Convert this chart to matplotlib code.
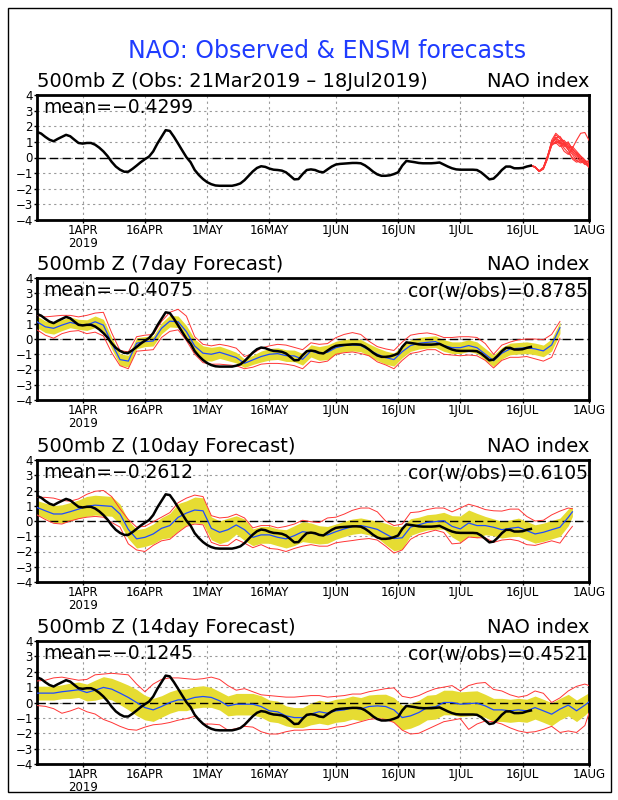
import numpy as np
import matplotlib
matplotlib.use("Agg")
import matplotlib.pyplot as plt
from matplotlib.patches import Rectangle

# ---- data (NAO index) ----
start = np.datetime64("2019-03-21")

# observed daily NAO, 21Mar .. 18Jul
obs = [1.64, 1.53, 1.32, 1.14, 1.04, 1.19, 1.32, 1.45, 1.36, 1.14,
       0.93, 0.89, 0.93, 0.93, 0.82, 0.63, 0.39, 0.09, -0.28, -0.58,
       -0.78, -0.91, -0.91, -0.73, -0.52, -0.30, -0.11, 0.06, 0.39, 0.89,
       1.32, 1.75, 1.70, 1.32, 0.89, 0.45, 0.02, -0.30, -0.80, -1.12,
       -1.38, -1.58, -1.71, -1.79, -1.81, -1.81, -1.81, -1.81, -1.75, -1.66,
       -1.45, -1.17, -0.89, -0.67, -0.56, -0.60, -0.71, -0.78, -0.80, -0.84,
       -0.95, -1.17, -1.40, -1.38, -1.06, -0.80, -0.76, -0.80, -0.91, -0.95,
       -0.76, -0.58, -0.45, -0.41, -0.39, -0.37, -0.35, -0.35, -0.37, -0.50,
       -0.69, -0.91, -1.08, -1.17, -1.17, -1.14, -1.06, -0.95, -0.52, -0.22,
       -0.26, -0.30, -0.35, -0.37, -0.37, -0.37, -0.35, -0.32, -0.45, -0.58,
       -0.69, -0.76, -0.78, -0.78, -0.78, -0.78, -0.80, -0.95, -1.17, -1.40,
       -1.35, -1.10, -0.80, -0.58, -0.58, -0.69, -0.69, -0.67, -0.58, -0.52]

# ensemble members 18Jul .. 1Aug (panel 1)
ens = [
    [-0.52, -0.60, -0.88, -0.70, 0.00, 0.95, 1.45, 1.20, 0.90, 0.70, 0.40, 0.10, -0.10, -0.30, -0.45],
    [-0.52, -0.62, -0.85, -0.62, 0.10, 1.00, 1.20, 1.05, 1.10, 0.80, 0.50, 0.30, 0.05, -0.20, -0.55],
    [-0.52, -0.58, -0.90, -0.75, -0.10, 0.80, 1.00, 0.95, 0.60, 0.30, 0.00, -0.20, -0.10, -0.35, -0.40],
    [-0.52, -0.60, -0.86, -0.68, 0.05, 0.90, 1.30, 1.00, 0.70, 0.90, 0.60, 0.20, -0.10, -0.25, -0.65],
    [-0.52, -0.64, -0.88, -0.66, 0.05, 0.85, 0.90, 1.10, 0.80, 0.50, 0.20, -0.20, -0.35, -0.20, -0.30],
    [-0.52, -0.60, -0.87, -0.72, -0.05, 1.10, 1.55, 1.30, 1.00, 0.60, 0.70, 0.40, 0.10, -0.15, -0.50],
    [-0.52, -0.61, -0.89, -0.70, 0.00, 0.75, 1.05, 0.85, 0.40, 0.20, 0.60, 1.10, 1.55, 1.60, 1.10],
    [-0.52, -0.60, -0.88, -0.66, 0.08, 0.95, 1.15, 0.90, 0.90, 0.50, -0.10, -0.30, -0.20, -0.45, -0.35],
    [-0.52, -0.62, -0.86, -0.69, 0.02, 0.88, 1.25, 1.35, 0.95, 0.65, 0.30, 0.00, -0.25, -0.30, -0.20],
    [-0.52, -0.59, -0.87, -0.71, -0.02, 0.92, 0.95, 0.70, 0.85, 1.00, 0.50, 0.25, -0.05, -0.40, -0.60],
]

# 7day forecast, every 2nd day from 21Mar to 25Jul
f7_mean = [1.13, 0.80, 0.70, 0.91, 1.09, 0.96, 0.91, 1.13, 0.91, -0.28,
           -1.35, -1.45, -0.28, -0.17, -0.13, 0.70, 1.17, 1.13, 0.48, -0.46,
           -0.93, -1.00, -0.87, -1.04, -1.22, -1.59, -1.37, -1.15, -1.00, -0.96,
           -1.09, -1.11, -1.33, -0.78, -0.95, -0.87, -0.57, -0.43, -0.39, -0.43,
           -0.72, -1.00, -1.22, -1.35, -0.83, -0.43, -0.28, -0.22, -0.17, -0.43,
           -0.57, -0.57, -0.43, -0.57, -1.00, -1.43, -0.93, -0.65, -0.61, -0.57,
           -0.65, -0.78, -0.39, 0.74]
f7_sd = [0.38, 0.38, 0.38, 0.36, 0.35, 0.33, 0.35, 0.38, 0.38, 0.38,
         0.38, 0.38, 0.36, 0.33, 0.33, 0.36, 0.38, 0.38, 0.40, 0.45,
         0.48, 0.45, 0.40, 0.38, 0.35, 0.28, 0.30, 0.36, 0.38, 0.38,
         0.38, 0.38, 0.38, 0.40, 0.45, 0.48, 0.42, 0.40, 0.40, 0.40,
         0.40, 0.42, 0.43, 0.43, 0.40, 0.38, 0.38, 0.38, 0.38, 0.38,
         0.38, 0.38, 0.38, 0.38, 0.38, 0.38, 0.38, 0.38, 0.38, 0.38,
         0.38, 0.38, 0.40, 0.38]
f7_lo = [0.60, 0.25, 0.05, 0.35, 0.50, 0.55, 0.35, 0.45, 0.20, -0.90,
         -1.75, -1.95, -0.80, -0.75, -0.70, 0.10, 0.50, 0.60, -0.10, -1.00,
         -1.55, -1.65, -1.65, -1.70, -1.75, -1.95, -1.85, -1.65, -1.60, -1.60,
         -1.65, -1.75, -1.95, -1.45, -1.55, -1.45, -1.00, -0.90, -0.85, -0.95,
         -1.10, -1.50, -1.70, -1.95, -1.40, -0.95, -0.85, -0.70, -0.70, -1.00,
         -1.05, -1.10, -1.05, -1.10, -1.40, -1.90, -1.40, -1.20, -1.20, -1.15,
         -1.30, -1.45, -1.20, 0.05]
f7_hi = [1.55, 1.45, 1.50, 1.55, 1.55, 1.45, 1.55, 1.70, 1.75, 0.40,
         -0.75, -0.85, 0.15, 0.25, 0.30, 1.15, 1.75, 1.95, 1.50, 0.15,
         -0.35, -0.45, -0.35, -0.45, -0.60, -1.15, -0.95, -0.60, -0.45, -0.35,
         -0.40, -0.55, -0.70, -0.25, -0.35, -0.30, 0.09, 0.30, 0.42, 0.30,
         -0.15, -0.50, -0.65, -0.75, -0.20, 0.25, 0.35, 0.40, 0.30, 0.10,
         0.10, 0.15, 0.15, 0.10, -0.30, -1.00, -0.40, -0.20, -0.05, 0.00,
         0.00, -0.05, 0.30, 1.15]

# 10day forecast, every 2nd day from 21Mar, last point 28Jul
f10_mean = [0.89, 0.67, 0.46, 0.46, 0.61, 0.78, 0.96, 1.04, 1.00, 0.96,
            0.46, -0.55, -1.17, -1.07, -0.85, -0.48, -0.30, 0.24, 0.52, 0.72,
            0.67, -0.48, -0.74, -0.57, -0.26, -0.57, -1.07, -0.91, -0.91, -1.07,
            -1.17, -0.96, -0.70, -0.78, -0.91, -0.91, -0.70, -0.52, -0.37, -0.30,
            -0.41, -0.55, -0.85, -1.15, -1.10, -0.40, -0.25, -0.09, -0.04, 0.02,
            -0.35, -0.52, -0.13, -0.30, -0.30, -0.41, -0.57, -0.48, -0.41, -0.63,
            -0.85, -0.74, -0.57, -0.41, 0.24, 0.60]
f10_sd = [0.45, 0.50, 0.55, 0.60, 0.60, 0.60, 0.65, 0.65, 0.65, 0.65,
          0.65, 0.60, 0.60, 0.60, 0.65, 0.70, 0.80, 0.90, 0.80, 0.85,
          0.85, 0.75, 0.75, 0.75, 0.60, 0.70, 0.55, 0.55, 0.55, 0.55,
          0.60, 0.65, 0.65, 0.65, 0.60, 0.55, 0.50, 0.50, 0.50, 0.50,
          0.50, 0.55, 0.70, 0.80, 0.75, 0.55, 0.50, 0.50, 0.50, 0.55,
          0.70, 0.85, 0.85, 0.80, 0.60, 0.55, 0.55, 0.55, 0.60, 0.60,
          0.60, 0.60, 0.60, 0.60, 0.55, 0.30]
f10_lo = [0.40, 0.10, -0.15, -0.20, 0.00, 0.15, 0.25, 0.30, 0.25, -0.10,
          -0.40, -1.50, -1.90, -2.00, -1.60, -1.30, -1.20, -0.75, -0.35, -0.20,
          -0.25, -1.40, -1.60, -1.60, -1.20, -1.45, -1.75, -1.55, -1.80, -1.85,
          -2.00, -1.80, -1.65, -1.55, -1.65, -1.65, -1.43, -1.35, -1.28, -1.20,
          -1.15, -1.25, -1.65, -2.10, -1.90, -1.20, -0.90, -0.75, -0.60, -0.75,
          -1.50, -1.45, -1.05, -1.10, -1.10, -1.40, -1.25, -1.20, -1.30, -1.55,
          -1.60, -1.45, -1.30, -1.45, -0.70, -0.35]
f10_hi = [1.55, 1.55, 1.50, 1.35, 1.30, 1.45, 1.75, 1.95, 2.00, 1.60,
          0.80, 0.10, -0.40, -0.35, -0.05, 0.25, 0.55, 1.20, 1.50, 1.70,
          1.60, 0.35, 0.20, 0.25, 0.45, 0.20, -0.45, -0.30, -0.30, -0.45,
          -0.35, -0.20, 0.05, -0.05, -0.10, 0.20, 0.25, 0.45, 0.70, 0.85,
          0.85, 0.60, 0.00, -0.30, -0.20, 0.55, 0.60, 0.75, 0.85, 0.85,
          0.60, 0.85, 1.10, 0.95, 0.75, 0.67, 0.65, 0.78, 0.78, 0.30,
          0.00, 0.05, 0.40, 0.65, 0.85, 0.80]

# 14day forecast, every 2nd day from 21Mar, last point 1Aug
f14_mean = [0.61, 0.61, 0.61, 0.70, 0.76, 0.83, 0.65, 0.80, 0.98, 0.87,
            0.61, 0.33, 0.00, -0.33, -0.48, -0.26, 0.00, 0.17, 0.17, 0.33,
            0.39, 0.33, 0.11, -0.22, -0.11, -0.11, -0.11, -0.26, -0.54, -0.61,
            -0.87, -0.98, -0.98, -0.75, -0.60, -0.70, -0.54, -0.48, -0.33, -0.43,
            -0.26, -0.22, -0.26, -0.48, -0.98, -0.87, -0.65, -0.33, -0.28, 0.00,
            0.00, -0.11, -0.07, -0.04, -0.22, -0.48, -0.48, -0.54, -0.48, -0.54,
            -0.33, -0.54, -0.76, -0.43, -0.17, -0.54, -0.17, 0.04]
f14_sd = [0.45, 0.45, 0.45, 0.45, 0.50, 0.50, 0.55, 0.65, 0.70, 0.70,
          0.75, 0.80, 0.85, 0.80, 0.75, 0.70, 0.70, 0.70, 0.70, 0.70,
          0.70, 0.65, 0.60, 0.65, 0.70, 0.70, 0.70, 0.70, 0.70, 0.70,
          0.65, 0.65, 0.65, 0.70, 0.75, 0.75, 0.75, 0.75, 0.75, 0.75,
          0.75, 0.75, 0.80, 0.80, 0.80, 0.80, 0.80, 0.80, 0.80, 0.80,
          0.80, 0.80, 0.80, 0.80, 0.75, 0.75, 0.75, 0.75, 0.75, 0.75,
          0.75, 0.75, 0.75, 0.70, 0.70, 0.70, 0.65, 0.60]
f14_lo = [-0.20, -0.25, -0.40, -0.70, -0.55, -0.35, -0.60, -0.75, -1.10, -1.30,
          -1.55, -1.75, -1.80, -1.60, -1.45, -1.40, -1.30, -1.15, -1.05, -0.90,
          -1.40, -1.40, -1.45, -1.80, -1.70, -1.55, -1.60, -1.90, -2.05, -2.05,
          -1.90, -1.80, -1.80, -1.75, -1.75, -1.75, -1.60, -1.55, -1.40, -1.25,
          -1.10, -1.05, -1.10, -1.30, -1.80, -2.05, -2.00, -1.75, -1.50, -1.25,
          -1.15, -1.05, -1.75, -1.40, -1.20, -1.25, -1.40, -1.65, -1.85, -1.95,
          -1.90, -1.75, -1.55, -1.95, -1.85, -1.95, -1.50, -0.70]
f14_hi = [1.40, 1.45, 1.60, 1.65, 1.55, 1.45, 1.50, 1.80, 1.85, 1.90,
          1.85, 1.80, 1.20, 0.70, 1.20, 1.50, 1.60, 1.60, 1.55, 1.50,
          1.55, 1.65, 1.50, 1.10, 0.80, 0.90, 0.70, 0.50, 0.45, 0.40,
          0.35, 0.35, 0.40, 0.45, 0.45, 0.35, 0.40, 0.45, 0.55, 0.55,
          0.70, 0.80, 0.90, 0.95, 0.40, 0.30, 0.45, 0.70, 0.90, 1.00,
          1.10, 0.75, 1.10, 1.25, 1.30, 0.85, 0.75, 0.50, 0.35, 0.45,
          0.75, 0.60, 0.00, 0.30, 0.75, 1.05, 1.20, 1.10]

panel_titles = ["500mb Z (Obs: 21Mar2019 \u2013 18Jul2019)",
                "500mb Z (7day Forecast)",
                "500mb Z (10day Forecast)",
                "500mb Z (14day Forecast)"]
mean_texts = ["mean=\u22120.4299", "mean=\u22120.4075", "mean=\u22120.2612", "mean=\u22120.1245"]
cor_texts = [None, "cor(w/obs)=0.8785", "cor(w/obs)=0.6105", "cor(w/obs)=0.4521"]

tick_dates = ["2019-04-01", "2019-04-16", "2019-05-01", "2019-05-16", "2019-06-01",
              "2019-06-16", "2019-07-01", "2019-07-16", "2019-08-01"]
tick_labels = ["1APR\n2019", "16APR", "1MAY", "16MAY", "1JUN", "16JUN", "1JUL", "16JUL", "1AUG"]


def days(n0, idx):
    return start + (n0 + np.asarray(idx)).astype("timedelta64[D]")


def fgrid(end):
    return np.r_[np.arange(0, end, 2), end]


obs_x = days(0, np.arange(len(obs)))
ens_x = days(len(obs) - 1, np.arange(len(ens[0])))

forecasts = [
    (fgrid(126), f7_mean, f7_sd, f7_lo, f7_hi),
    (fgrid(129), f10_mean, f10_sd, f10_lo, f10_hi),
    (fgrid(133), f14_mean, f14_sd, f14_lo, f14_hi),
]

W, H = 618, 800
fig = plt.figure(figsize=(W / 100, H / 100), dpi=100)
fig.patches.append(Rectangle((8 / W, 8 / H), 603 / W, 784 / H, transform=fig.transFigure,
                             fill=False, edgecolor="black", linewidth=1))
fig.text(0.53, 1 - 51 / H, "NAO: Observed & ENSM forecasts", color="#1f3cff",
         fontsize=17, ha="center", va="center")

# pixel rows (top, bottom) of each panel's frame
rows = [(95, 220), (278, 400), (460, 582), (641, 764)]
yellow = "#e6dc32"
red = "#ff3535"
blue = "#1e4bff"

for i, (top, bot) in enumerate(rows):
    ax = fig.add_axes([37 / W, 1 - bot / H, 552 / W, (bot - top) / H])
    ax.set_axisbelow(True)

    if i == 0:
        for m in ens:
            ax.plot(ens_x, m, color=red, linewidth=0.8, zorder=3)
    else:
        g, mn, sd, lo, hi = forecasts[i - 1]
        fx = days(0, g)
        mn = np.array(mn)
        sd = np.array(sd)
        ax.fill_between(fx, mn - sd, mn + sd, color=yellow, linewidth=0, zorder=2)
        ax.plot(fx, lo, color=red, linewidth=0.7, zorder=3)
        ax.plot(fx, hi, color=red, linewidth=0.7, zorder=3)
        ax.plot(fx, mn, color=blue, linewidth=0.9, zorder=4)

    ax.axhline(0, color="black", linestyle=(0, (6, 3)), linewidth=1, zorder=2.5)
    ax.plot(obs_x, obs, color="black", linewidth=1.8, zorder=5)

    ax.set_xlim(start, np.datetime64("2019-08-01"))
    ax.set_ylim(-4, 4)
    ax.set_yticks(range(-4, 5))
    ax.set_xticks([np.datetime64(d) for d in tick_dates])
    ax.set_xticklabels(tick_labels, linespacing=0.95)
    ax.grid(True, color="#9a9a9a", linestyle=(0, (2, 3)), linewidth=0.8)
    ax.tick_params(direction="out", length=2.5, width=1, labelsize=8.5, pad=0.5)
    for s in ax.spines.values():
        s.set_linewidth(2)

    ax.text(0, 1.03, panel_titles[i], transform=ax.transAxes, fontsize=14, va="bottom", ha="left")
    ax.text(1, 1.03, "NAO index", transform=ax.transAxes, fontsize=14, va="bottom", ha="right")
    ax.text(0.012, 0.975, mean_texts[i], transform=ax.transAxes, fontsize=13.5, va="top", ha="left")
    if cor_texts[i]:
        ax.text(0.998, 0.975, cor_texts[i], transform=ax.transAxes, fontsize=13.5, va="top", ha="right")

fig.savefig("out.png", dpi=100)
